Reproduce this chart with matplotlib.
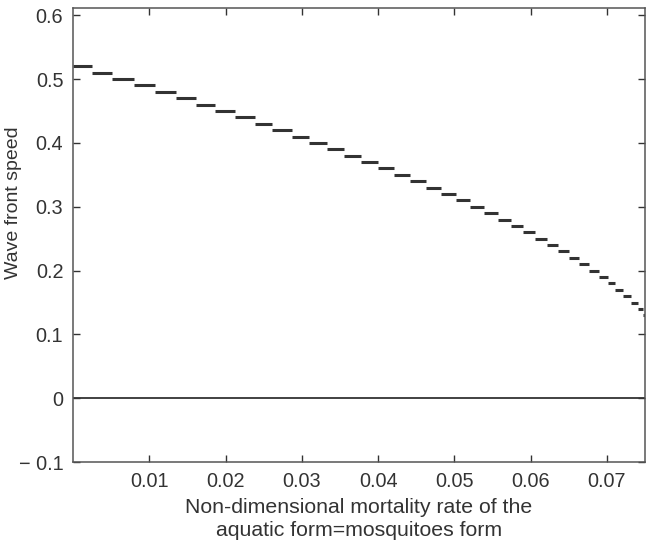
import matplotlib
matplotlib.use("Agg")
import matplotlib.pyplot as plt

# speed levels (quantised wave front speed) and the x-edges of each step
speed_levels = [0.52, 0.51, 0.50, 0.49, 0.48, 0.47, 0.46, 0.45, 0.44, 0.43,
                0.42, 0.41, 0.40, 0.39, 0.38, 0.37, 0.36, 0.35, 0.34, 0.33,
                0.32, 0.31, 0.30, 0.29, 0.28, 0.27, 0.26, 0.25, 0.24, 0.23,
                0.22, 0.21, 0.20, 0.19, 0.18, 0.17, 0.16, 0.15, 0.14, 0.13]
step_edges = [0.0, 0.00245, 0.0051, 0.0080, 0.01075, 0.01345, 0.0161, 0.01865,
              0.02125, 0.0238, 0.02615, 0.02865, 0.0309, 0.03335, 0.03555,
              0.0378, 0.04005, 0.0421, 0.04415, 0.04625, 0.0483, 0.0502,
              0.0521, 0.0539, 0.0557, 0.0574, 0.05895, 0.06055, 0.0621,
              0.06365, 0.065, 0.0663, 0.06765, 0.06895, 0.0701, 0.0711,
              0.07215, 0.07315, 0.0741, 0.0747, 0.0755]

x_ticks = [0.01, 0.02, 0.03, 0.04, 0.05, 0.06, 0.07]
y_ticks = [-0.1, 0, 0.1, 0.2, 0.3, 0.4, 0.5, 0.6]
y_ticklabels = ["\u2212 0.1", "0", "0.1", "0.2", "0.3", "0.4", "0.5", "0.6"]

plt.rcParams['font.family'] = ['Liberation Sans', 'DejaVu Sans']
ink = '#333333'

fig = plt.figure(figsize=(6.46, 5.43), dpi=100)
ax = fig.add_axes([0.113, 0.149, 0.8855, 0.837])

ax.hlines(speed_levels, step_edges[:-1], step_edges[1:], colors=ink, linewidth=2.2)
ax.axhline(0, color=ink, linewidth=1.3)

ax.set_xlim(0, 0.075)
ax.set_ylim(-0.1, 0.612)
ax.set_xticks(x_ticks)
ax.set_xticklabels([f"{t:.2f}" for t in x_ticks])
ax.set_yticks(y_ticks)
ax.set_yticklabels(y_ticklabels)

ax.tick_params(direction='in', top=True, right=True, length=5, width=1,
               color=ink, labelcolor=ink, labelsize=14.3, pad=7)
for s in ax.spines.values():
    s.set_color('#555555')
    s.set_linewidth(1.1)

ax.set_xlabel("Non-dimensional mortality rate of the\naquatic form=mosquitoes form",
              fontsize=15.3, color=ink, labelpad=5, linespacing=1.25)
ax.set_ylabel("Wave front speed", fontsize=14, color=ink)
ax.yaxis.set_label_coords(-0.09, 0.57)

fig.savefig("out.png", dpi=100)
